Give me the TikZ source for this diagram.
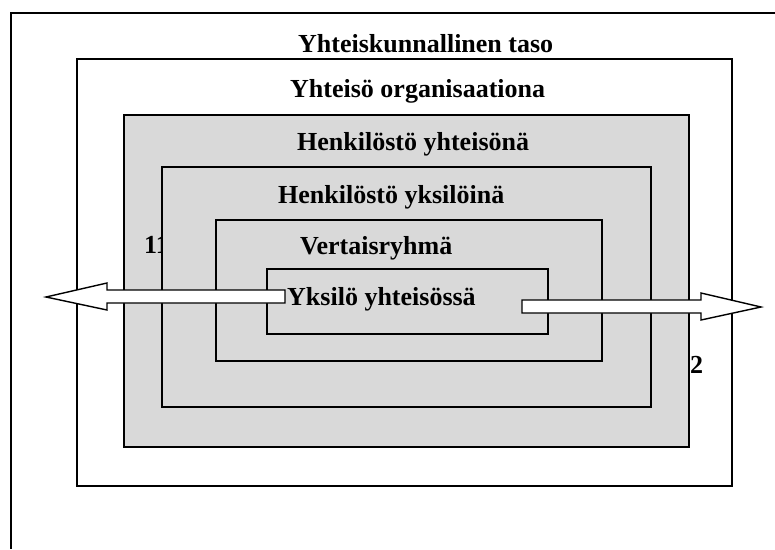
\documentclass[tikz,border=0pt]{standalone}
\usepackage{fontspec}
\setmainfont{Liberation Serif}
\usetikzlibrary{calc}
\definecolor{boxgray}{HTML}{D9D9D9}
\begin{document}
\begin{tikzpicture}[x=1pt,y=-1pt,
  layer/.style={draw=black,line width=1.6pt},
  graylayer/.style={layer,fill=boxgray},
  whitelayer/.style={layer,fill=white},
  lbl/.style={anchor=base west,inner sep=0pt,font=\fontsize{26}{30}\selectfont\bfseries},
  blockarrow/.style={draw=black,line width=1.4pt,fill=white,line join=miter}]
\useasboundingbox (0,0) rectangle (775,549);
% outer frame (clipped at right and bottom)
\coordinate (fTL) at (11,13);
\coordinate (fTR) at (775,13);
\coordinate (fBL) at (11,549);
\draw[line width=1.5pt] (fTR) -- (fTL) -- (fBL);
% layers
\draw[whitelayer] (77,59) rectangle (732,486);
\draw[graylayer] (124,115) rectangle (689,447);
\node[lbl] (n1) at (144,253) {11};
\draw[graylayer] (162,167) rectangle (651,407);
\draw[graylayer] (216,220) rectangle (602,361);
\draw[graylayer] (267,269) rectangle (548,334);
% labels
\node[lbl] (t1) at (298,52) {Yhteiskunnallinen taso};
\node[lbl] (t2) at (290,97) {Yhteisö organisaationa};
\node[lbl] (t3) at (297,150) {Henkilöstö yhteisönä};
\node[lbl] (t4) at (278,203) {Henkilöstö yksilöinä};
\node[lbl] (t5) at (300,254) {Vertaisryhmä};
\node[lbl] (n2) at (690,373) {2};
% left block arrow
\coordinate (lTip) at (46,297);
\draw[blockarrow] (lTip) -- (107,283) -- (107,290) -- (285,290) -- (285,303) -- (107,303) -- (107,310) -- cycle;
% right block arrow
\coordinate (rTip) at (761,307);
\draw[blockarrow] (rTip) -- (701,320) -- (701,313) -- (522,313) -- (522,300) -- (701,300) -- (701,293) -- cycle;
\node[lbl] (t6) at (287,305) {Yksilö yhteisössä};
\end{tikzpicture}
\end{document}
